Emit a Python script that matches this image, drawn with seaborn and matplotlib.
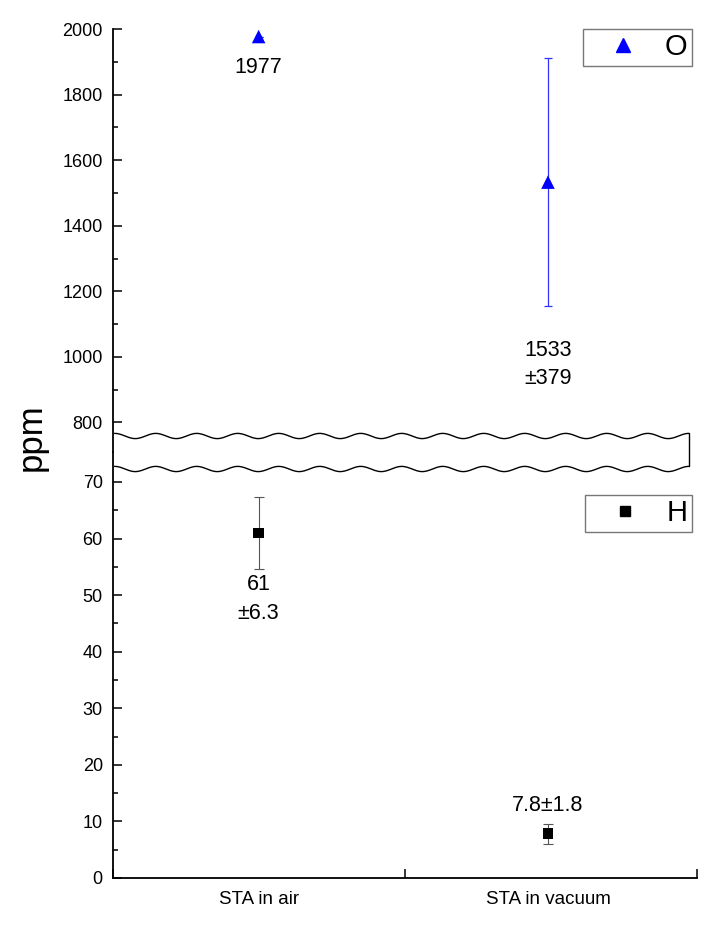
import numpy as np
import seaborn as sns
import matplotlib.pyplot as plt
from matplotlib.lines import Line2D
from matplotlib.patches import Polygon

# data
categories = ['STA in air', 'STA in vacuum']
o_values = [1977, 1533]
o_errors = [0, 379]
h_values = [61, 7.8]
h_errors = [6.3, 1.8]
o_labels = ['1977', '1533\n±379']
h_labels = ['61\n±6.3', '7.8±1.8']

sns.set_style('ticks')
plt.rcParams['font.family'] = ['Liberation Sans', 'DejaVu Sans']
plt.rcParams.update({'text.color': 'black', 'axes.labelcolor': 'black',
                     'xtick.color': 'black', 'ytick.color': 'black',
                     'axes.edgecolor': 'black'})

W, H = 714, 925
fig = plt.figure(figsize=(W / 100, H / 100), dpi=100)

left, right = 112.5 / W, 697 / W
y_top, y_mid, y_bot = 1 - 29 / H, 1 - 452 / H, 1 - 878 / H
ax_top = fig.add_axes([left, y_mid, right - left, y_top - y_mid])
ax_bot = fig.add_axes([left, y_bot, right - left, y_mid - y_bot])

x = np.arange(len(categories)) + np.array([0.5, 0.49])

# O (upper panel)
sns.scatterplot(x=x, y=o_values, marker='^', s=95, color='#0000ff',
                edgecolor='none', ax=ax_top, zorder=3, clip_on=False)
ax_top.errorbar(x, o_values, yerr=o_errors, fmt='none', ecolor='#3333ff',
                elinewidth=0.9, capsize=3, capthick=0.9, zorder=2)

# H (lower panel)
sns.scatterplot(x=x, y=h_values, marker='s', s=60, color='black',
                edgecolor='none', ax=ax_bot, zorder=3)
ax_bot.errorbar(x, h_values, yerr=h_errors, fmt='none', ecolor='#555555',
                elinewidth=0.8, capsize=3.5, capthick=0.8, zorder=2)

# value labels
o_text_y = [1883, 978]
h_text_y = [49.3, 12.9]
for xi, ty, lab in zip(x, o_text_y, o_labels):
    ax_top.text(xi, ty, lab, ha='center', va='center', fontsize=15.5, linespacing=1.45)
for xi, ty, lab in zip(x, h_text_y, h_labels):
    ax_bot.text(xi, ty, lab, ha='center', va='center', fontsize=15.5, linespacing=1.45)

# axes styling
ax_top.set_xlim(0, 2)
ax_bot.set_xlim(0, 2)
ax_top.set_ylim(710, 2000)
ax_bot.set_ylim(0, 75.3)

ax_top.set_yticks(np.arange(800, 2001, 200))
ax_top.set_yticks(np.arange(900, 2000, 200), minor=True)
ax_bot.set_yticks(np.arange(0, 71, 10))
ax_bot.set_yticks(np.arange(5, 70, 10), minor=True)

ax_top.set_xticks([])
ax_bot.set_xticks([0, 1, 2])
ax_bot.set_xticklabels([])
ax_bot.set_xticks(x, minor=True)
ax_bot.set_xticklabels(categories, minor=True)

for ax in (ax_top, ax_bot):
    for s in ('top', 'right'):
        ax.spines[s].set_visible(False)
    ax.spines['left'].set_linewidth(1.3)
    ax.spines['bottom'].set_linewidth(1.3)
    ax.tick_params(axis='both', which='major', direction='in', length=6.5,
                   width=1.1, labelsize=13, pad=7)
    ax.tick_params(axis='y', which='minor', direction='in', length=3.5, width=1.1)
    ax.patch.set_alpha(0)
ax_top.spines['bottom'].set_visible(False)
ax_bot.tick_params(axis='x', which='minor', length=0, labelsize=13.5, pad=9)

# legends
h_o = Line2D([], [], marker='^', color='#0000ff', ls='none', markersize=10)
h_h = Line2D([], [], marker='s', color='black', ls='none', markersize=7.5)
for ax, hd, lab, yanc in ((ax_top, h_o, 'O', 1.0), (ax_bot, h_h, 'H', 0.899)):
    leg = ax.legend([hd], [lab], loc='upper right',
                    bbox_to_anchor=((692 - 112.5) / (697 - 112.5), yanc),
                    borderaxespad=0, fontsize=21, frameon=True, fancybox=False,
                    edgecolor='#777777', framealpha=1, handlelength=2.45,
                    handletextpad=0.2, borderpad=0.15)
    leg.get_frame().set_linewidth(1.0)

# axis break band
xs = np.linspace(114.5, 689, 400)
wave = 2.6 * np.sin(2 * np.pi * (xs - 125) / 41.0)
up = 436 + wave
lo = 469 + wave
band = np.vstack([np.column_stack([xs, up]), np.column_stack([xs[::-1], lo[::-1]])])
band_fig = np.column_stack([band[:, 0] / W, 1 - band[:, 1] / H])
fig.add_artist(Polygon(band_fig, closed=True, facecolor='white', edgecolor='none',
                       transform=fig.transFigure, zorder=5))
for yy in (up, lo):
    fig.add_artist(Line2D(xs / W, 1 - yy / H, color='black', lw=1.0,
                          transform=fig.transFigure, zorder=6))
fig.add_artist(Line2D([689 / W, 689 / W], [1 - up[-1] / H, 1 - lo[-1] / H],
                      color='black', lw=1.0, transform=fig.transFigure, zorder=6))

fig.text(31 / W, 1 - 437 / H, 'ppm', rotation=90, ha='center', va='center', fontsize=25)

fig.savefig('out.png', dpi=100)
